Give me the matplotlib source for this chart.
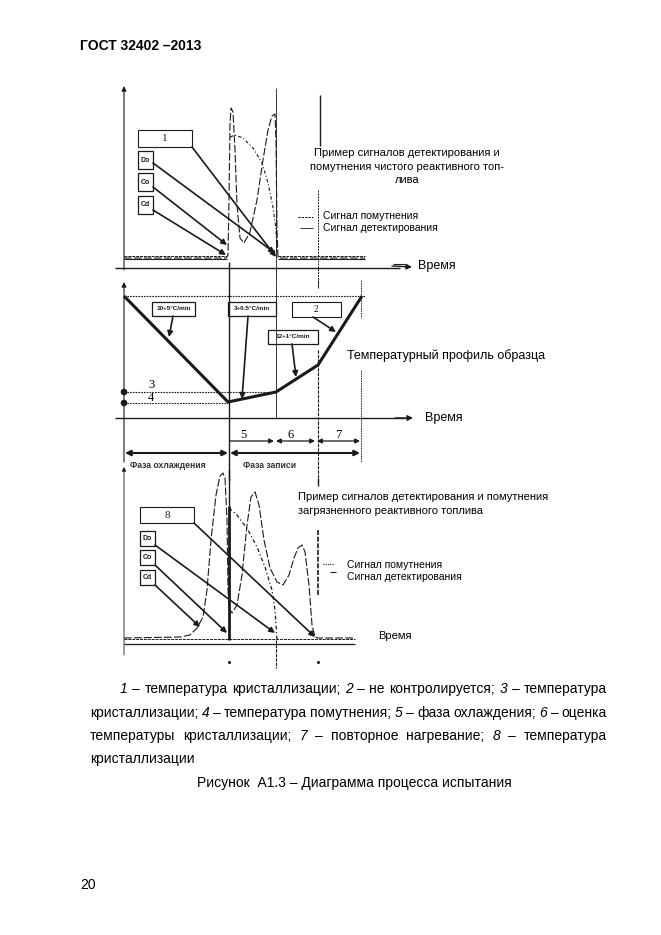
import matplotlib.pyplot as plt
from matplotlib.patches import Rectangle, Circle

plt.rcParams["font.family"] = ["Liberation Sans", "DejaVu Sans"]

W, H = 661, 935
INK = "#1a1a1a"

# ---- top panel: clean jet fuel (page pixel coordinates)
top_detect_x = [124, 226, 228, 229, 230, 231, 233, 235, 237, 240, 244, 250, 257, 263, 268, 272, 275, 276, 277, 278, 365]
top_detect_y = [258, 258, 255, 200, 125, 108, 112, 150, 205, 238, 243, 232, 200, 160, 130, 116, 114, 140, 230, 258, 258]
top_cloud_x = [230, 235, 243, 253, 262, 268, 273, 276, 277]
top_cloud_y = [137, 135, 138, 148, 163, 183, 207, 230, 253]

# ---- middle panel: sample temperature profile
profile_x = [124, 228, 276, 318, 362]
profile_y = [296, 402, 392, 365, 296]
temp3_y = 392
temp4_y = 403

# ---- bottom panel: contaminated jet fuel
bot_detect_x = [124, 180, 190, 197, 203, 207, 211, 216, 220, 223, 225, 227, 228, 229, 232, 237, 242, 247, 251, 255, 259, 264, 270, 277, 283, 289, 294, 298, 302, 305, 309, 312, 315, 318, 355]
bot_detect_y = [638, 637, 635, 628, 617, 590, 540, 495, 476, 473, 478, 520, 590, 608, 613, 605, 575, 525, 497, 492, 505, 540, 568, 582, 585, 575, 558, 548, 545, 552, 585, 625, 637, 638, 638]
bot_cloud_x = [229, 237, 248, 257, 265, 272, 275, 277]
bot_cloud_y = [508, 515, 530, 547, 567, 590, 610, 640]

rate_labels = ["10÷5°C/min", "3÷0.5°C/min", "12÷1°C/min"]
phase_numbers = ["5", "6", "7"]
phase_names = ["Фаза охлаждения", "Фаза записи"]
legend_names = ["Сигнал помутнения", "Сигнал детектирования"]
title_top = ["Пример сигналов детектирования и",
             "помутнения чистого реактивного топ-",
             "лива"]
title_bot = ["Пример сигналов детектирования и помутнения",
             "загрязненного реактивного топлива"]

caption_lines = [
    [("1", 1), ("–", 0), ("температура", 0), ("кристаллизации;", 0), ("2", 1), ("–", 0),
     ("не", 0), ("контролируется;", 0), ("3", 1), ("–", 0), ("температура", 0)],
    [("кристаллизации;", 0), ("4", 1), ("–", 0), ("температура", 0), ("помутнения;", 0),
     ("5", 1), ("–", 0), ("фаза", 0), ("охлаждения;", 0), ("6", 1), ("–", 0), ("оценка", 0)],
    [("температуры", 0), ("кристаллизации;", 0), ("7", 1), ("–", 0), ("повторное", 0),
     ("нагревание;", 0), ("8", 1), ("–", 0), ("температура", 0)],
]

fig = plt.figure(figsize=(W / 100, H / 100), dpi=100)
ax = fig.add_axes([0, 0, 1, 1])
ax.set_xlim(0, W)
ax.set_ylim(H, 0)
ax.axis("off")


def line(xs, ys, **kw):
    kw.setdefault("color", INK)
    kw.setdefault("lw", 0.8)
    ax.plot(xs, ys, solid_capstyle="butt", **kw)


def arrow(x0, y0, x1, y1, style="-|>", lw=1.2, ms=8):
    ax.annotate("", xy=(x1, y1), xytext=(x0, y0),
                arrowprops=dict(arrowstyle=style, color=INK, lw=lw,
                                mutation_scale=ms, shrinkA=0, shrinkB=0))


def box(x0, y0, x1, y1, text="", size=5, weight="bold", family=None, lw=0.9):
    ax.add_patch(Rectangle((x0, y0), x1 - x0, y1 - y0, fill=False, ec=INK, lw=lw))
    if text:
        kw = {}
        if family:
            kw["family"] = family
        ax.text((x0 + x1) / 2, (y0 + y1) / 2, text, ha="center", va="center",
                fontsize=size, fontweight=weight, color=INK, **kw)


# header / footer
ax.text(80, 46, "ГОСТ 32402 –2013", fontsize=10, fontweight="bold", va="center")
ax.text(80, 885, "20", fontsize=10, va="center")

# ================= top panel =================
arrow(124, 270, 124, 86, lw=0.8, ms=7)
line([115, 400], [268, 268], lw=1.0)
arrow(392, 266, 412, 267, lw=1.0, ms=8)
line([393, 405], [264, 264], lw=0.8)
ax.text(418, 266, "Время", fontsize=9, va="center")

line([124, 227], [256, 256], ls=(0, (3, 1)), lw=0.7)
line([124, 227], [259, 259], lw=0.8)
line([278, 365], [256, 256], ls=(0, (3, 1)), lw=0.7)
line([278, 365], [259, 259], lw=0.8)

line(top_detect_x, top_detect_y, ls=(0, (7, 2)), lw=0.8)
line(top_cloud_x, top_cloud_y, ls=(0, (3, 2, 1, 2)), lw=0.8)

line([276, 276], [88, 280], lw=0.6)
line([320, 320], [95, 146], lw=1.0)
line([318, 318], [190, 282], ls=(0, (2, 1)), lw=0.7)

box(138, 130, 192, 147, "1", size=8, weight="normal", family="Liberation Serif", lw=0.8)
box(138, 151, 153, 169, "Do")
box(138, 173, 153, 191, "Co")
box(138, 196, 153, 214, "Cd")
arrow(192, 147, 276, 257)
arrow(153, 163, 275, 253)
arrow(153, 187, 227, 245)
arrow(153, 210, 226, 255)

for i, t in enumerate(title_top):
    ax.text(407, 153 + 13.5 * i, t, fontsize=8, ha="center", va="center")
line([298, 313], [217, 217], ls=(0, (2, 1)), lw=0.8)
line([300, 313], [228, 228], lw=0.6)
for i, t in enumerate(legend_names):
    ax.text(323, 216 + 12 * i, t, fontsize=7.5, va="center")

# ================= middle panel =================
arrow(124, 462, 124, 282, lw=0.8, ms=7)
line([115, 405], [418, 418], lw=1.0)
arrow(395, 418, 413, 418, lw=1.0, ms=8)
ax.text(425, 418, "Время", fontsize=9, va="center")

line([124, 365], [296, 296], ls=(0, (1.5, 1)), lw=0.8)
line([124, profile_x[2]], [temp3_y, temp3_y], ls=(0, (1.5, 1)), lw=0.8)
line([124, profile_x[1]], [temp4_y, temp4_y], ls=(0, (1.5, 1)), lw=0.8)
for yy in (temp3_y, temp4_y):
    ax.add_patch(Circle((124, yy), 2.6, color=INK))
ax.text(148, 385, "3", fontsize=9, family="Liberation Serif", va="center")
ax.text(148, 398, "4", fontsize=9, family="Liberation Serif", va="center")

line(profile_x, profile_y, lw=2.2, solid_joinstyle="miter")

line([229, 229], [262, 480], lw=1.0)
line([276, 276], [280, 418], lw=0.6)
line([318, 318], [280, 288], lw=0.7)
line([318, 318], [350, 482], ls=(0, (3, 1)), lw=0.8)
line([361, 361], [280, 318], ls=(0, (2, 1)), lw=0.6)
line([361, 361], [370, 462], ls=(0, (2, 1)), lw=0.6)

box(152, 302, 195, 316, rate_labels[0], size=4.6)
box(228, 302, 276, 316, rate_labels[1], size=4.6)
box(268, 330, 318, 344, rate_labels[2], size=4.6)
box(292, 302, 341, 317, "2", size=7, weight="normal", family="Liberation Serif", lw=0.8)
arrow(173, 316, 169, 337)
arrow(248, 316, 242, 399)
arrow(292, 344, 296, 377)
arrow(313, 317, 336, 332)

ax.text(347, 356, "Температурный профиль образца", fontsize=9, va="center")

arrow(230, 441, 274, 441, lw=0.9, ms=7)
arrow(276, 441, 315, 441, style="<|-|>", lw=0.9, ms=7)
arrow(317, 441, 360, 441, style="<|-|>", lw=0.9, ms=7)
for x, t in zip([240, 287, 335], phase_numbers):
    ax.text(x, 435, t, fontsize=9, family="Liberation Serif", va="center")
arrow(125, 453, 228, 453, style="<|-|>", lw=1.5, ms=8)
arrow(230, 453, 360, 453, style="<|-|>", lw=1.5, ms=8)
ax.text(130, 465, phase_names[0], fontsize=6.2, fontweight="bold", color="#333", va="center")
ax.text(243, 465, phase_names[1], fontsize=6.2, fontweight="bold", color="#333", va="center")

# ================= bottom panel =================
arrow(124, 655, 124, 467, lw=0.6, ms=6)
line([124, 355], [639, 639], ls=(0, (3, 1)), lw=0.7)
line([124, 355], [644, 644], lw=0.9)

line(bot_detect_x, bot_detect_y, ls=(0, (7, 2)), lw=0.8)
line(bot_cloud_x, bot_cloud_y, ls=(0, (3, 2, 1, 2)), lw=0.9)
line([229, 229], [470, 506], lw=1.0)
line([229, 229], [506, 640], lw=2.0)

line([276, 276], [640, 668], ls=(0, (3, 1)), lw=0.8)
line([318, 318], [478, 486], lw=1.0)
line([318, 318], [530, 596], ls=(0, (3, 1)), lw=1.2)
ax.plot([229, 318], [662, 662], ls="none", marker="o", ms=1.2, color=INK)

box(140, 507, 194, 523, "8", size=8, weight="normal", family="Liberation Serif", lw=0.8)
box(140, 531, 155, 546, "Do")
box(140, 550, 155, 565, "Co")
box(140, 570, 155, 585, "Cd")
arrow(194, 523, 315, 637)
arrow(155, 545, 275, 633)
arrow(155, 565, 227, 633)
arrow(155, 585, 200, 627)

for i, t in enumerate(title_bot):
    ax.text(298, 497 + 14 * i, t, fontsize=8, va="center")
line([323, 333], [564, 564], ls=(0, (1, 1)), lw=0.8)
line([330, 336], [572, 572], lw=0.8)
for i, t in enumerate(legend_names):
    ax.text(347, 565 + 12 * i, t, fontsize=7.5, va="center")
ax.text(378, 636, "Время", fontsize=8, va="center")

# ================= caption =================
renderer = fig.canvas.get_renderer()


def justify(tokens, x0, x1, y):
    texts = [ax.text(0, y, w, fontsize=10, va="center",
                     fontstyle="italic" if it else "normal") for w, it in tokens]
    widths = [t.get_window_extent(renderer=renderer).width for t in texts]
    gap = (x1 - x0 - sum(widths)) / (len(texts) - 1)
    x = x0
    for t, w in zip(texts, widths):
        t.set_x(x)
        x += w + gap


justify(caption_lines[0], 120, 607, 689)
justify(caption_lines[1], 90, 607, 713)
justify(caption_lines[2], 90, 607, 736)
ax.text(90, 759, "кристаллизации", fontsize=10, va="center")
ax.text(354, 783, "Рисунок  А1.3 – Диаграмма процесса испытания", fontsize=10,
        ha="center", va="center")

fig.savefig("out.png", dpi=100)
